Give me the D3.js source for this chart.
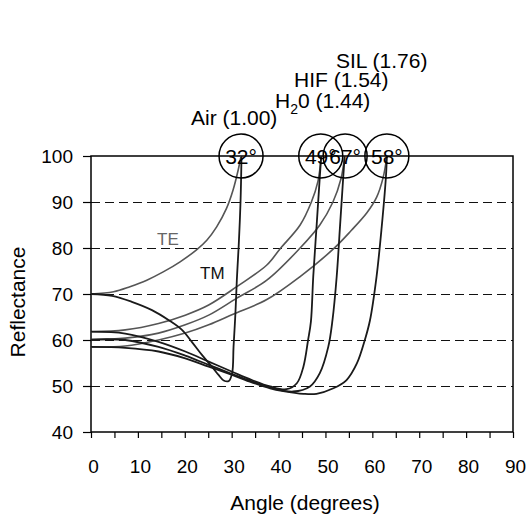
<!DOCTYPE html>
<html>
<head>
<meta charset="utf-8">
<script src="https://cdn.jsdelivr.net/npm/d3@7"></script>
<style>
  body { margin: 0; background: #fff; }
  svg { font-family: "Liberation Sans", Arial, sans-serif; }
</style>
</head>
<body>
<div id="chart"></div>
<script>
// angle (degrees) vs reflectance
const airTE = [[0,70],[4.8,70.5],[8.3,71.6],[11.9,73],[15.4,74.8],[19,77],[22.5,79.6],[24.7,81.7],[26.8,84.6],[28.9,88.6],[30.3,92.6],[31.4,97],[32,100]];
const airTM = [[0,70],[4.5,69.6],[8.7,68.3],[13,66.5],[16.6,64.3],[19.4,62.2],[21.5,59.6],[23.7,56.7],[25.8,54.2],[27.2,52.4],[28.3,51.2],[29.4,51.1],[30.1,52.8],[30.4,58.5],[30.8,65.8],[31.1,73],[31.5,80.5],[31.9,90.4],[32.1,100]];
const h2oTE = [[0,61.8],[7.3,62.2],[14.4,63.6],[20.1,65.4],[25.1,67.6],[31.1,71.6],[37.5,76.3],[40.3,79.8],[44.6,85],[47,90],[48.4,94.5],[49.1,100]];
const h2oTM = [[0,61.8],[7.3,61.4],[14.4,59.6],[20.1,57.5],[25.1,55.3],[30.1,53.1],[34.3,51.3],[38.2,49.9],[41.7,49.3],[43.9,50.6],[45.3,54.2],[46.3,60],[46.9,64],[47.4,73.8],[48.1,84.6],[48.8,95.5],[49.1,100]];
const hifTE = [[0,60.1],[7.3,60.4],[14.4,61.5],[20.1,63.3],[25.1,65.4],[31.1,69.1],[37.5,73],[44.6,80],[48.8,85],[51.6,90],[53.3,95],[54.1,100]];
const hifTM = [[0,60.1],[7.3,60],[14.4,58.5],[20.1,56.6],[25.1,54.6],[30.1,52.6],[34.3,51],[38.2,49.7],[43.1,48.8],[46.7,49.9],[48.8,52.8],[50.6,58.5],[51.5,64.3],[52.4,73.8],[53.1,84.6],[53.8,95.5],[54.1,100]];
const silTE = [[0,58.5],[7.3,58.7],[14.4,60],[20.1,61.5],[25.1,63.3],[30.3,65.6],[37.5,68.8],[44.6,73.8],[51.7,79.8],[55.5,83.8],[58.8,87.6],[60.9,91],[62.3,95.3],[63.1,100]];
const silTM = [[0,58.5],[7.3,58.3],[14.4,57.5],[20.1,56],[25.1,54.2],[30.1,52.4],[34.3,50.8],[38.2,49.5],[41,48.9],[45.3,48.3],[48.1,48.3],[51.7,49.5],[54.5,51.3],[56.7,54.9],[58.4,60],[59.5,64.3],[60.9,73.8],[62,84.6],[62.9,95.5],[63.1,100]];

const teCurves = [airTE, h2oTE, hifTE, silTE];
const tmCurves = [airTM, h2oTM, hifTM, silTM];

const criticalAngles = [32, 49, 54.2, 63.1];
const criticalLabels = ["32°", "49°", "67°", "58°"];

const mediaNames = ["Air", "H", "HIF", "SIL"];
const mediaIndex = ["(1.00)", "(1.44)", "(1.54)", "(1.76)"];

const xTicks = d3.range(0, 91, 10);
const yTicks = d3.range(40, 101, 10);
const gridValues = [50, 60, 70, 80, 90];

const width = 526, height = 518;
const mLeft = 91, mRight = 513, mTop = 156, mBottom = 432;

const x = d3.scaleLinear().domain([0, 90]).range([mLeft, mRight]);
const y = d3.scaleLinear().domain([40, 100]).range([mBottom, mTop]);

const svg = d3.select('#chart').append('svg')
  .attr('width', width)
  .attr('height', height);

// dashed grid
svg.append('g')
  .selectAll('line')
  .data(gridValues)
  .join('line')
  .attr('x1', mLeft).attr('x2', mRight)
  .attr('y1', d => Math.round(y(d)) + 0.5).attr('y2', d => Math.round(y(d)) + 0.5)
  .attr('stroke', '#111')
  .attr('stroke-width', 1)
  .attr('stroke-dasharray', '9,5');

// minor x ticks every 5
svg.append('g')
  .attr('transform', `translate(0,${mBottom})`)
  .call(d3.axisBottom(x).tickValues(d3.range(0, 91, 5)).tickSize(6).tickSizeOuter(0).tickFormat(''))
  .call(g => g.select('.domain').remove())
  .call(g => g.selectAll('line').attr('stroke', '#000').attr('stroke-width', 1.2));

// x labels
svg.append('g')
  .attr('transform', `translate(2,${mBottom})`)
  .call(d3.axisBottom(x).tickValues(xTicks).tickSize(0).tickPadding(28).tickFormat(d3.format('d')))
  .call(g => g.select('.domain').remove())
  .call(g => g.selectAll('text').attr('font-size', 19).attr('fill', '#000'));

// y axis
svg.append('g')
  .attr('transform', `translate(${mLeft},0)`)
  .call(d3.axisLeft(y).tickValues(yTicks).tickSize(8).tickSizeOuter(0).tickPadding(10))
  .call(g => g.select('.domain').remove())
  .call(g => g.selectAll('line').attr('stroke', '#000').attr('stroke-width', 1.2))
  .call(g => g.selectAll('text').attr('font-size', 19).attr('fill', '#000'));

svg.selectAll('g').attr('font-family', null);

// frame
svg.append('rect')
  .attr('x', mLeft).attr('y', mTop)
  .attr('width', mRight - mLeft).attr('height', mBottom - mTop)
  .attr('fill', 'none')
  .attr('stroke', '#000')
  .attr('stroke-width', 1.5);

const line = d3.line()
  .x(d => x(d[0]))
  .y(d => y(d[1]))
  .curve(d3.curveCatmullRom.alpha(0.5));

svg.append('g')
  .attr('fill', 'none')
  .attr('stroke', '#555')
  .attr('stroke-width', 1.6)
  .selectAll('path')
  .data(teCurves)
  .join('path')
  .attr('d', line);

svg.append('g')
  .attr('fill', 'none')
  .attr('stroke', '#1a1a1a')
  .attr('stroke-width', 1.8)
  .selectAll('path')
  .data(tmCurves)
  .join('path')
  .attr('d', line);

// critical angle circles
const crit = svg.append('g')
  .selectAll('g')
  .data(criticalAngles)
  .join('g')
  .attr('transform', d => `translate(${x(d)},${y(100)})`);

crit.append('circle')
  .attr('r', 22)
  .attr('fill', 'none')
  .attr('stroke', '#000')
  .attr('stroke-width', 1.5);

crit.append('text')
  .attr('text-anchor', 'middle')
  .attr('dy', '0.36em')
  .attr('font-size', 21)
  .text((d, i) => criticalLabels[i]);

// medium labels
const labelPos = [[191, 125], [275, 108], [294, 87], [336, 68]];
const media = svg.append('g')
  .attr('font-size', 21)
  .selectAll('text')
  .data(mediaNames)
  .join('text')
  .attr('x', (d, i) => labelPos[i][0])
  .attr('y', (d, i) => labelPos[i][1]);

media.each(function (d, i) {
  const t = d3.select(this);
  if (d === 'H') {
    t.append('tspan').text('H');
    t.append('tspan').attr('font-size', 14).attr('dy', 6).text('2');
    t.append('tspan').attr('dy', -6).text('0 ' + mediaIndex[i]);
  } else {
    t.text(d + ' ' + mediaIndex[i]);
  }
});

// polarisation labels
svg.append('text')
  .attr('x', 157).attr('y', 245)
  .attr('font-size', 17)
  .attr('fill', '#666')
  .text('TE');

svg.append('text')
  .attr('x', 200).attr('y', 279)
  .attr('font-size', 17)
  .attr('fill', '#111')
  .text('TM');

// axis titles
svg.append('text')
  .attr('x', (mLeft + mRight) / 2 + 3)
  .attr('y', 510)
  .attr('text-anchor', 'middle')
  .attr('font-size', 21)
  .text('Angle (degrees)');

svg.append('text')
  .attr('transform', `translate(25,${(mTop + mBottom) / 2 + 8}) rotate(-90)`)
  .attr('text-anchor', 'middle')
  .attr('font-size', 21)
  .text('Reflectance');
</script>
</body>
</html>
